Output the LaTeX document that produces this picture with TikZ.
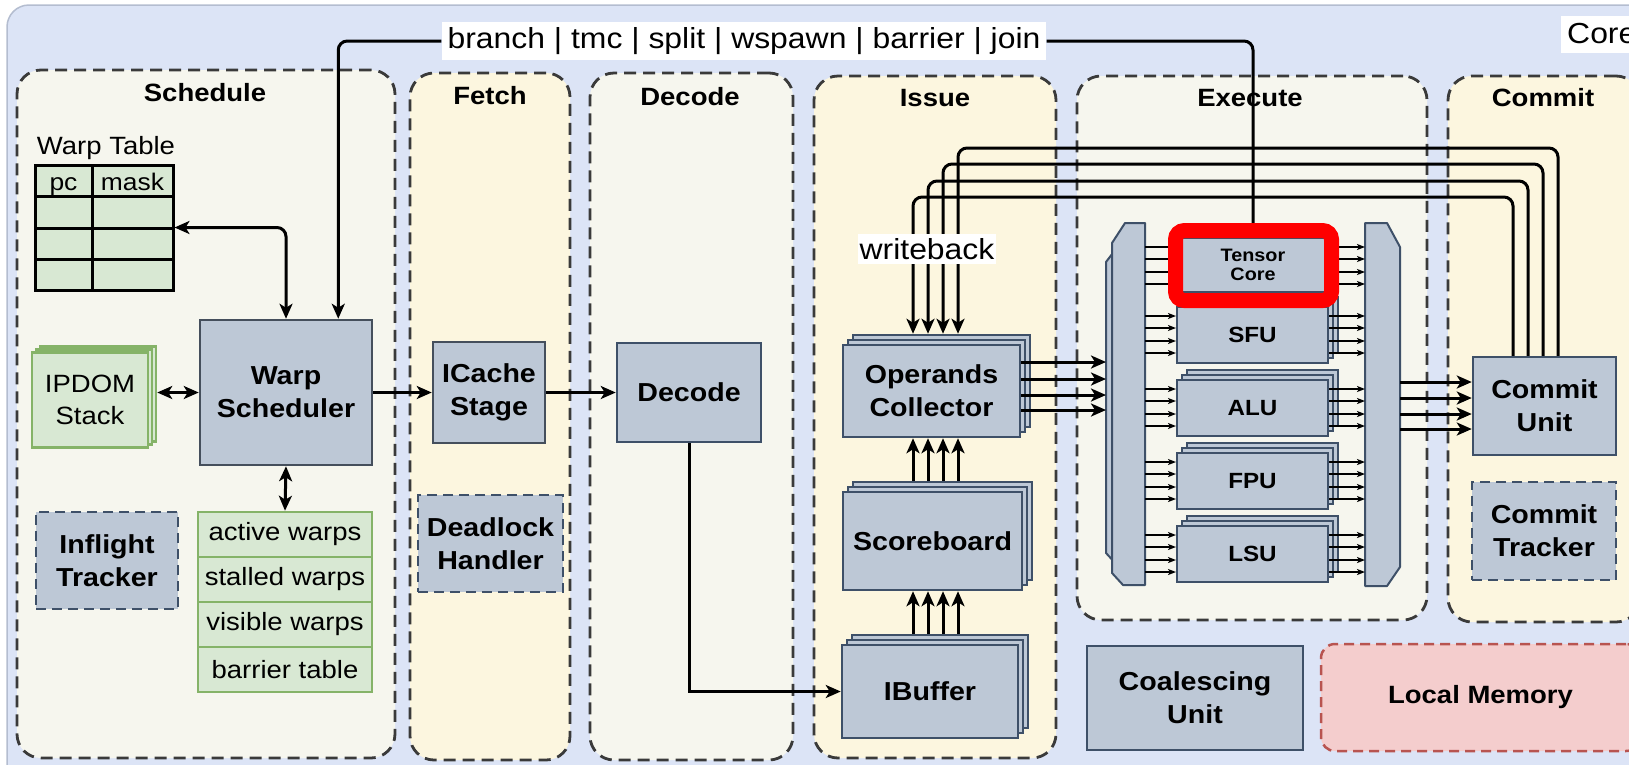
\documentclass[tikz,border=0pt]{standalone}
\usepackage{fontspec}
\setmainfont{Liberation Sans}[FakeStretch=1.1]
\usetikzlibrary{arrows.meta,calc}
\definecolor{bgblue}{HTML}{DCE4F6}
\definecolor{bgline}{HTML}{B4BDD0}
\definecolor{cream}{HTML}{F6F6EE}
\definecolor{lyel}{HTML}{FCF6DF}
\definecolor{boxgray}{HTML}{BDC8D6}
\definecolor{boxline}{HTML}{454F5C}
\definecolor{slate}{HTML}{3E5068}
\definecolor{grnfill}{HTML}{D8E8D3}
\definecolor{grnline}{HTML}{85B368}
\definecolor{pinkfill}{HTML}{F4CDCD}
\definecolor{pinkline}{HTML}{B85450}
\definecolor{dashc}{HTML}{3A3A3A}
\definecolor{hlred}{HTML}{FF0000}
\newcommand\fsz[2]{\fontsize{#1}{#2}\selectfont}
\newcommand\stackbox[7]{%
 \node[#1, minimum width=#5pt, minimum height=#6pt] (#2b2) at (#3+10,#4-10) {};
 \node[#1, minimum width=#5pt, minimum height=#6pt] (#2b1) at (#3+5,#4-5) {};
 \node[#1, minimum width=#5pt, minimum height=#6pt] (#2) at (#3,#4) {#7};}
\begin{document}
\begin{tikzpicture}[x=1pt,y=-1pt,
 stage/.style={draw=dashc, line width=2.8pt, dash pattern=on 12pt off 7pt, rounded corners=24pt, inner sep=0pt},
 stitle/.style={font=\bfseries\fsz{25}{30}, inner sep=0pt},
 gbox/.style={draw=boxline, fill=boxgray, line width=2.5pt, inner sep=0pt, align=center, font=\bfseries\fsz{26}{33}},
 ebox/.style={draw=slate, fill=boxgray, line width=2pt, inner sep=0pt, align=center, font=\bfseries\fsz{22}{24}},
 dbox/.style={gbox, draw=slate, dash pattern=on 10pt off 6pt},
 grn/.style={draw=grnline, fill=grnfill, line width=2.5pt, inner sep=0pt, align=center, font=\fsz{25}{32}},
 txt/.style={font=\fsz{25}{31}, inner sep=0pt},
 lbl/.style={fill=white, font=\fsz{29}{32}, inner ysep=3pt, inner xsep=6pt},
 arr/.style={line width=3pt, -{Stealth[length=15pt,width=13pt,inset=4pt]}},
 darr/.style={line width=3pt, {Stealth[length=15pt,width=13pt,inset=4pt]}-{Stealth[length=15pt,width=13pt,inset=4pt]}},
 sarr/.style={line width=1.6pt, -{Stealth[length=8pt,width=6pt,inset=2pt]}},
 wire/.style={line width=3pt},
 mux/.style={draw=slate, fill=boxgray, line width=2pt, line join=round}]
\useasboundingbox (0,0) rectangle (1629,764);
\path[fill=bgblue, draw=bgline, line width=1.5pt, rounded corners=22pt] (7,5) rectangle (1670,800);

% stages
\node[stage, fill=cream, minimum width=378pt, minimum height=688pt] (sSch) at (206,414) {};
\node[stage, fill=lyel, minimum width=160pt, minimum height=687pt] (sFet) at (490,416.5) {};
\node[stage, fill=cream, minimum width=203pt, minimum height=687pt] (sDec) at (691.5,416.5) {};
\node[stage, fill=lyel, minimum width=242pt, minimum height=682pt] (sIss) at (935,417) {};
\node[stage, fill=cream, minimum width=350pt, minimum height=544pt] (sExe) at (1252,348) {};
\node[stage, fill=lyel, minimum width=192pt, minimum height=546pt] (sCom) at (1544,349) {};
\node[stitle] (tSch) at (205,93) {Schedule};
\node[stitle] (tFet) at (490,96) {Fetch};
\node[stitle] (tDec) at (690,97) {Decode};
\node[stitle] (tIss) at (935,98) {Issue};
\node[stitle] (tExe) at (1250,98) {Execute};
\node[stitle] (tCom) at (1543,98) {Commit};

\node[lbl, anchor=west, minimum height=37pt] (core) at (1561,34) {Core};

% schedule
\node[txt, anchor=base] (wtl) at (106,154) {Warp Table};
\node[draw=black, fill=grnfill, line width=3pt, minimum width=138pt, minimum height=125pt, inner sep=0pt] (wtab) at (104,227.5) {};
\draw[line width=3pt] (35,196) -- (173,196) (35,228) -- (173,228) (35,259) -- (173,259) (92,165) -- (92,290);
\node[txt, font=\fsz{24}{28}, anchor=base] (pc) at (63.5,190) {pc};
\node[txt, font=\fsz{24}{28}, anchor=base] (mask) at (132.5,190) {mask};

\node[grn, minimum width=116pt, minimum height=95pt] (ipb2) at (98,394) {};
\node[grn, minimum width=116pt, minimum height=95pt] (ipb1) at (94,397) {};
\node[grn, minimum width=116pt, minimum height=95pt] (ip) at (90,400) {IPDOM\\Stack};

\node[gbox, minimum width=172pt, minimum height=145pt] (ws) at (286,392.5) {Warp\\Scheduler};
\node[dbox, minimum width=142pt, minimum height=97pt] (inf) at (107,560.5) {Inflight\\Tracker};
\node[grn, minimum width=174pt, minimum height=45pt] (l1) at (285,534.5) {active warps};
\node[grn, minimum width=174pt, minimum height=45pt] (l2) at (285,579.5) {stalled warps};
\node[grn, minimum width=174pt, minimum height=45pt] (l3) at (285,624.5) {visible warps};
\node[grn, minimum width=174pt, minimum height=45pt] (l4) at (285,669.5) {barrier table};

% fetch / decode
\node[gbox, minimum width=112pt, minimum height=101pt] (ic) at (489,392.5) {ICache\\Stage};
\node[dbox, minimum width=145pt, minimum height=97pt] (dl) at (490.5,543.5) {Deadlock\\Handler};
\node[gbox, draw=slate, minimum width=144pt, minimum height=99pt] (dec) at (689,392.5) {Decode};

% issue
\stackbox{gbox,draw=slate}{oc}{931.5}{391}{177}{92}{Operands\\Collector}
\stackbox{gbox,draw=slate}{sb}{932.5}{541}{179}{98}{Scoreboard}
\stackbox{gbox,draw=slate}{ib}{930}{691.5}{176}{93}{IBuffer}

% execute
\filldraw[mux] (1119,245) -- (1139,245) -- (1139,565) -- (1117,565) -- (1106,553) -- (1106,262) -- cycle;
\filldraw[mux] (1125,223) -- (1145,223) -- (1145,585) -- (1123,585) -- (1112,573) -- (1112,243) -- cycle;
\filldraw[mux] (1365,223) -- (1387,223) -- (1400,247) -- (1400,567) -- (1387,586) -- (1365,586) -- cycle;
\node[ebox, font=\bfseries\fsz{18}{19}, minimum width=146pt, minimum height=54pt] (tc) at (1253,265) {Tensor\\Core};
\stackbox{ebox}{sfu}{1252.5}{335}{151}{56}{SFU}
\stackbox{ebox}{alu}{1252.5}{408}{151}{56}{ALU}
\stackbox{ebox}{fpu}{1252.5}{481}{151}{56}{FPU}
\stackbox{ebox}{lsu}{1252.5}{554}{151}{56}{LSU}

% commit
\node[gbox, draw=slate, minimum width=143pt, minimum height=98pt] (cu) at (1544.5,406) {Commit\\Unit};
\node[dbox, minimum width=144pt, minimum height=98pt] (ct) at (1544,531) {Commit\\Tracker};

% bottom
\node[gbox, draw=slate, minimum width=216pt, minimum height=104pt] (coal) at (1195,698) {Coalescing\\Unit};
\node[gbox, draw=pinkline, fill=pinkfill, dash pattern=on 10pt off 6pt, rounded corners=14pt, font=\bfseries\fsz{25}{30}, minimum width=319pt, minimum height=107pt] (lmem) at (1480.5,697.5) {Local Memory};

% branch label
\node[lbl, minimum height=38pt] (br) at (744,41) {branch | tmc | split | wspawn | barrier | join};

% coordinates
\coordinate (wc1) at (913,0); \coordinate (wc2) at (928,0); \coordinate (wc3) at (943,0); \coordinate (wc4) at (958,0);
\coordinate (cc1) at (1513,0); \coordinate (cc2) at (1528,0); \coordinate (cc3) at (1543,0); \coordinate (cc4) at (1558,0);
\coordinate (h1) at (0,197); \coordinate (h2) at (0,181); \coordinate (h3) at (0,164); \coordinate (h4) at (0,148);
\coordinate (r1) at (0,362); \coordinate (r2) at (0,379); \coordinate (r3) at (0,395); \coordinate (r4) at (0,410);
\coordinate (q1) at (0,382); \coordinate (q2) at (0,398); \coordinate (q3) at (0,414); \coordinate (q4) at (0,429);
\coordinate (lmW) at (1106,0); \coordinate (lmE) at (1145,0); \coordinate (rmW) at (1365,0); \coordinate (rmE) at (1400,0);

% connectors
\draw[darr, rounded corners=9pt] (wtab.east) -| (ws.north);
\draw[darr] (ipb2.east |- ws.west) -- (ws.west);
\draw[darr] (ws.south) -- (l1.north);
\draw[arr] (ws.east) -- (ic.west);
\draw[arr] (ic.east) -- (dec.west);
\draw[arr] (dec.south) |- (ib.west);
\draw[wire, rounded corners=9pt] (tc.north) |- (br.east);
\draw[arr, rounded corners=9pt] (br.west) -| ([xshift=-35pt]ws.north east);

\foreach \i in {1,...,4} {
 \draw[arr, rounded corners=9pt] (cc\i |- cu.north) |- (wc\i |- h\i) -- (wc\i |- ocb2.north);
 \draw[arr] (wc\i |- sbb2.north) -- (wc\i |- oc.south);
 \draw[arr] (wc\i |- ibb2.north) -- (wc\i |- sb.south);
 \draw[arr] (oc.east |- r\i) -- (lmW |- r\i);
 \draw[arr] (rmE |- q\i) -- (cu.west |- q\i);
}
\foreach \u/\t in {tc/238,sfu/307,alu/380,fpu/453,lsu/526} {
 \foreach \d in {9,21,34,46} {
  \draw[sarr] ($(lmE)+(0,\t+\d)$) -- ($(\u.west |- lmE)+(0,\t+\d)$);
  \draw[sarr] ($(\u.east |- rmW)+(0,\t+\d)$) -- ($(rmW)+(0,\t+\d)$);
 }
}

\node[lbl, inner xsep=2pt, minimum height=30pt] (wb) at (927,249) {writeback};

% highlight
\node[draw=hlred, line width=15pt, rounded corners=9pt, minimum width=156pt, minimum height=70pt, inner sep=0pt] (hl) at (1253.5,265.5) {};
\end{tikzpicture}
\end{document}
